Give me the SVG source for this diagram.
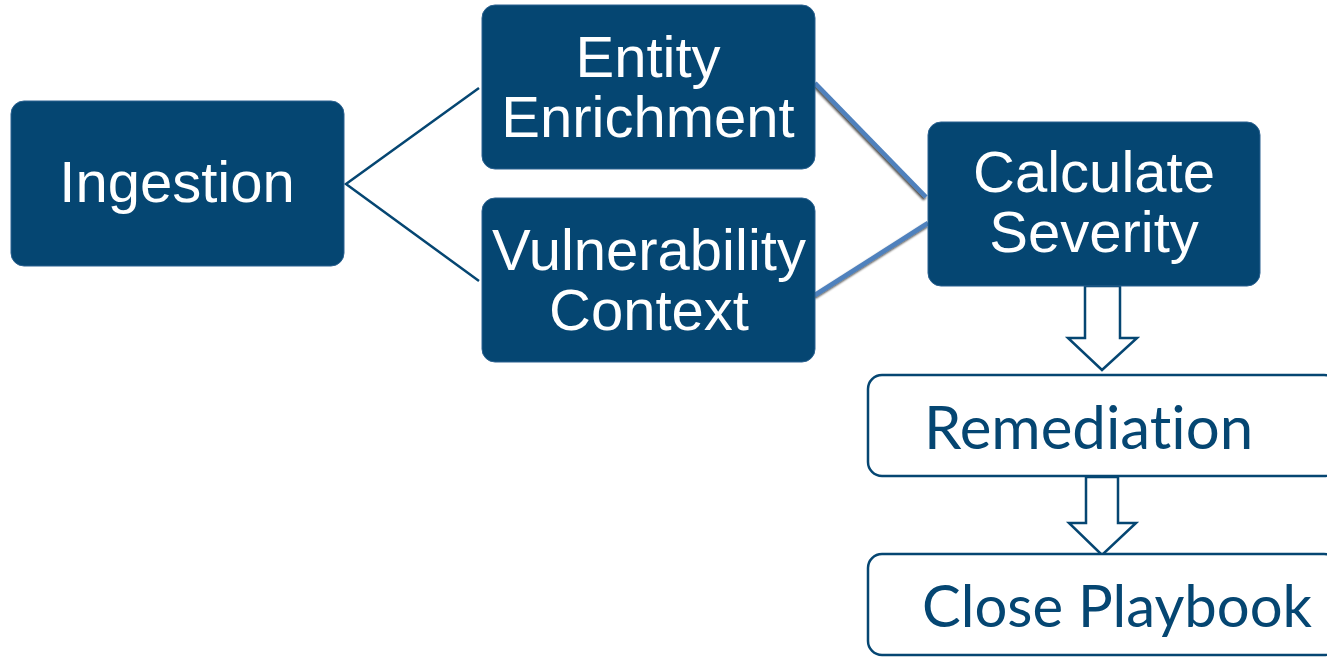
<svg xmlns="http://www.w3.org/2000/svg" width="1327" height="657" viewBox="0 0 1327 657">
<style>
.dark{fill:#054672;stroke:#2a6190;stroke-width:1}
.light{fill:#ffffff;stroke:#054672;stroke-width:2.5}
.wt{font-family:"Liberation Sans",Arial,sans-serif;font-size:58px;fill:#ffffff;text-anchor:middle}
.bt{font-family:Lato,"Open Sans",sans-serif;font-size:59px;fill:#054672;font-variant-ligatures:none}
.thin{stroke:#054672;stroke-width:2.5;fill:none}
.blue{stroke:#4f81bd;stroke-width:4.5;fill:none}
.blk{fill:#ffffff;stroke:#054672;stroke-width:2.5;stroke-linejoin:miter}
</style>
<defs>
<filter id="sh" x="-20%" y="-20%" width="140%" height="140%">
<feGaussianBlur in="SourceAlpha" stdDeviation="1.2"/>
<feOffset dx="-1.5" dy="2" result="b"/>
<feComponentTransfer><feFuncA type="linear" slope="0.7"/></feComponentTransfer>
<feMerge><feMergeNode/><feMergeNode in="SourceGraphic"/></feMerge>
</filter>
</defs>
<g id="connectors">
<polyline class="thin" points="479,88 346,184 479,281"/>
<line class="blue" filter="url(#sh)" x1="815" y1="83" x2="926" y2="197"/>
<line class="blue" filter="url(#sh)" x1="928" y1="223" x2="815" y2="295"/>
<polygon class="blk" points="1085,286 1120,286 1120,338 1137,338 1102,370 1068,338 1085,338"/>
<polygon class="blk" points="1086,477 1118,477 1118,523 1136,523 1102,555 1069,523 1086,523"/>
</g>
<g id="ingestion">
<rect class="dark" x="11" y="101" width="333" height="165" rx="13"/>
<text class="wt" x="177" y="202">Ingestion</text>
</g>
<g id="entity-enrichment">
<rect class="dark" x="482" y="5" width="333" height="164" rx="13"/>
<text class="wt" x="648" y="77">Entity</text>
<text class="wt" x="648" y="137">Enrichment</text>
</g>
<g id="vulnerability-context">
<rect class="dark" x="482" y="198" width="333" height="164" rx="13"/>
<text class="wt" x="649" y="270">Vulnerability</text>
<text class="wt" x="649" y="330">Context</text>
</g>
<g id="calculate-severity">
<rect class="dark" x="928" y="122" width="332" height="164" rx="13"/>
<text class="wt" x="1094" y="192">Calculate</text>
<text class="wt" x="1094" y="252">Severity</text>
</g>
<g id="remediation">
<rect class="light" x="868" y="375" width="470" height="101" rx="14"/>
<text class="bt" x="924" y="449" style="font-size:60px">Remediation</text>
</g>
<g id="close-playbook">
<rect class="light" x="868" y="554" width="470" height="101" rx="14"/>
<text class="bt" x="922" y="627" style="font-size:58px">Close Playbook</text>
</g>
</svg>
